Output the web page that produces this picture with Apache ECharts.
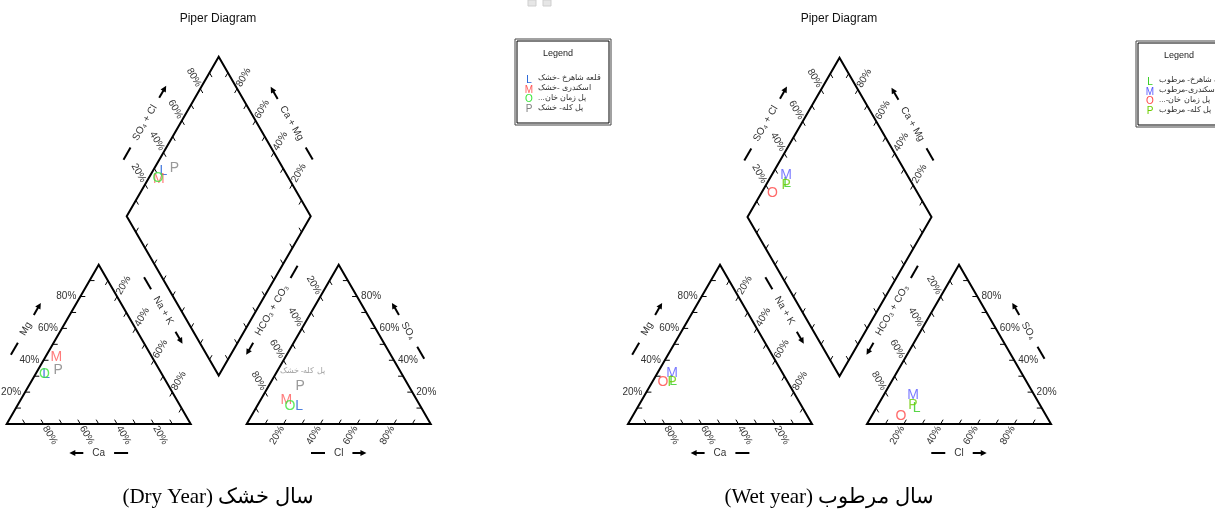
<!DOCTYPE html>
<html>
<head>
<meta charset="utf-8">
<script src="https://cdn.jsdelivr.net/npm/echarts@6/dist/echarts.min.js"></script>
<style>
  html, body { margin: 0; padding: 0; background: #fff; }
  #chart { width: 1215px; height: 523px; }
</style>
</head>
<body>
<div id="chart" dir="rtl"></div>
<script>
// ---- Sample data (percent of total meq/L) ----
const sampleLetters = ['L', 'M', 'O', 'P'];

const dryNames  = ['قلعه شاهرخ -خشک', 'اسکندری -خشک', 'پل زمان خان...', 'پل کله- خشک'];
const dryColors = ['#1f5fd6', '#ff5a5a', '#3ae63a', '#808080'];
const dryCa   = [63, 52, 64, 55];
const dryMg   = [31, 42, 31, 34];
const dryNaK  = [ 6,  6,  5, 11];
const dryHCO3 = [66, 71, 71, 59];
const drySO4  = [11, 15, 11, 24];
const dryCl   = [23, 14, 18, 17];

const wetNames  = ['قلعه شاهرخ- مرطوب', 'اسکندری-مرطوب', 'پل زمان خان-...', 'پل کله- مرطوب'];
const wetColors = ['#2ecc1a', '#5a5aff', '#ff4545', '#6ccc00'];
const wetCa   = [62, 60, 68, 63];
const wetMg   = [27, 32, 26, 26];
const wetNaK  = [11,  8,  6, 11];
const wetHCO3 = [68, 66, 79, 69];
const wetSO4  = [10, 18,  5, 12];
const wetCl   = [22, 16, 16, 19];

const tickPercents = [20, 40, 60, 80];
const chartTitle = 'Piper Diagram';
const captions = ['سال خشک (Dry Year)', 'سال مرطوب (Wet year)'];
const axisNames = {
  mg: 'Mg', ca: 'Ca', nak: 'Na + K', cl: 'Cl', so4: 'SO\u2084',
  hco3: 'HCO\u2083 + CO\u2083', so4cl: 'SO\u2084 + Cl', camg: 'Ca + Mg'
};

// ---- Piper geometry ----
const W = 1215, HGT = 523;
const SIDE = 184, RT = Math.sqrt(3) / 2;
const FONT = 'Arial, "Liberation Sans", sans-serif';
const SERIF = '"Liberation Serif", "Times New Roman", serif';

function makeLayout(x0, base, gap) {
  return {
    x0, base, gap,
    x1: x0 + SIDE + gap,
    bx: x0 + SIDE + gap / 2,
    by: base - gap * RT
  };
}
const LAY = [makeLayout(6.7, 424, 56), makeLayout(628, 424, 55)];

function catXY(g, ca, mg, nk) {
  const s = ca + mg + nk; mg /= s; nk /= s;
  return [g.x0 + SIDE * (nk + mg / 2), g.base - SIDE * RT * mg];
}
function anXY(g, hc, so, cl) {
  const s = hc + so + cl; so /= s; cl /= s;
  return [g.x1 + SIDE * (cl + so / 2), g.base - SIDE * RT * so];
}
function diaXY(g, cm, sc) {
  return [g.bx + SIDE / 2 * (sc - cm), g.by - SIDE * RT * (cm + sc)];
}

const D = {
  UR: [0.5, -RT], UL: [-0.5, -RT], DR: [0.5, RT], DL: [-0.5, RT],
  R: [1, 0], L: [-1, 0], N_LEFT: [-RT, -0.5], N_RIGHT: [RT, -0.5], DOWN: [0, 1]
};

const mctx = document.createElement('canvas').getContext('2d');
function textWidth(str, size) {
  mctx.font = size + 'px ' + FONT;
  return mctx.measureText(str).width;
}

function axesFor(g) {
  return [
    { pt: v => catXY(g, v, 0, 100 - v), inward: D.UL, label: { out: D.DR, rot: -60 } },
    { pt: v => catXY(g, 100 - v, v, 0), inward: D.R, label: { side: 'left' } },
    { pt: v => catXY(g, 0, 100 - v, v), inward: D.DL, label: { out: D.UR, rot: 60 } },
    { pt: v => anXY(g, 100 - v, 0, v), inward: D.UR, label: { out: D.DL, rot: 60 } },
    { pt: v => anXY(g, 0, v, 100 - v), inward: D.L, label: { side: 'right' } },
    { pt: v => anXY(g, v, 100 - v, 0), inward: D.DR, label: { out: D.UL, rot: -60 } },
    { pt: v => diaXY(g, 1, v / 100), inward: D.DR, label: { out: D.UL, rot: -60 } },
    { pt: v => diaXY(g, v / 100, 1), inward: D.DL, label: { out: D.UR, rot: 60 } },
    { pt: v => diaXY(g, v / 100, 0), inward: D.UR },
    { pt: v => diaXY(g, 0, v / 100), inward: D.UL }
  ];
}

function titlesFor(g) {
  return [
    { mid: catXY(g, 50, 50, 0), T: D.UR, N: D.N_LEFT, n: 31, t: 0, text: axisNames.mg, rot: 60 },
    { mid: catXY(g, 50, 0, 50), T: D.L, N: D.DOWN, n: 29, t: 0, text: axisNames.ca, rot: 0 },
    { mid: catXY(g, 0, 50, 50), T: D.DR, N: D.N_RIGHT, n: 33, t: -20, text: axisNames.nak, rot: -60 },
    { mid: anXY(g, 50, 0, 50), T: D.R, N: D.DOWN, n: 29, t: 0, text: axisNames.cl, rot: 0 },
    { mid: anXY(g, 0, 50, 50), T: D.UL, N: D.N_RIGHT, n: 27, t: 0, text: axisNames.so4, rot: -60 },
    { mid: anXY(g, 50, 50, 0), T: D.DL, N: D.N_LEFT, n: 35, t: -19, text: axisNames.hco3, rot: 60 },
    { mid: diaXY(g, 1, 0.5), T: D.UR, N: D.N_LEFT, n: 31, t: -2, text: axisNames.so4cl, rot: 60 },
    { mid: diaXY(g, 0.5, 1), T: D.UL, N: D.N_RIGHT, n: 30, t: -2, text: axisNames.camg, rot: -60 }
  ];
}

const add = (p, d, k) => [p[0] + d[0] * k, p[1] + d[1] * k];
const LABEL_FS = 10;
const INK = '#333';

function renderFrame(params, api) {
  const g = LAY[api.value(0)];
  const C = p => api.coord(p);
  const kids = [];
  const line = (a, b, w) => {
    const pa = C(a), pb = C(b);
    kids.push({ type: 'line', shape: { x1: pa[0], y1: pa[1], x2: pb[0], y2: pb[1] },
      style: { stroke: '#000', lineWidth: w } });
  };
  const text = (p, str, rot, align, size, color) => {
    const pp = C(p);
    kids.push({ type: 'text', x: pp[0], y: pp[1], rotation: rot * Math.PI / 180,
      style: { text: str, fontSize: size, fontFamily: FONT, fill: color,
        align: align, textAlign: align, verticalAlign: 'middle', textVerticalAlign: 'middle' } });
  };

  // outlines
  const polys = [
    [catXY(g, 100, 0, 0), catXY(g, 0, 0, 100), catXY(g, 0, 100, 0)],
    [anXY(g, 100, 0, 0), anXY(g, 0, 0, 100), anXY(g, 0, 100, 0)],
    [diaXY(g, 0, 0), diaXY(g, 1, 0), diaXY(g, 1, 1), diaXY(g, 0, 1)]
  ];
  polys.forEach(pts => kids.push({ type: 'polygon', shape: { points: pts.map(C) },
    style: { fill: 'none', stroke: '#000', lineWidth: 2, lineJoin: 'miter' } }));

  // ticks and tick labels
  axesFor(g).forEach(ax => {
    for (let v = 10; v < 100; v += 10) {
      const p = ax.pt(v);
      line(p, add(p, ax.inward, 5), 1);
    }
    if (!ax.label) return;
    tickPercents.forEach(v => {
      const p = ax.pt(v);
      const s = v + '%';
      if (ax.label.side === 'left') text(add(p, D.L, 4), s, 0, 'right', LABEL_FS, INK);
      else if (ax.label.side === 'right') text(add(p, D.R, 4), s, 0, 'left', LABEL_FS, INK);
      else text(add(p, ax.label.out, 13), s, ax.label.rot, 'center', LABEL_FS, INK);
    });
  });

  // axis titles with dash and arrow
  titlesFor(g).forEach(tt => {
    const c = add(add(tt.mid, tt.N, tt.n), tt.T, tt.t);
    text(c, tt.text, tt.rot, 'center', LABEL_FS, INK);
    const a = textWidth(tt.text, LABEL_FS) / 2 + 9, len = 14;
    line(add(c, tt.T, -(a + len)), add(c, tt.T, -a), 2);
    const e = add(c, tt.T, a + len);
    line(add(c, tt.T, a), add(e, tt.T, -4), 2);
    const perp = [-tt.T[1], tt.T[0]];
    const b = add(e, tt.T, -6);
    kids.push({ type: 'polygon',
      shape: { points: [C(e), C(add(b, perp, 3)), C(add(b, perp, -3))] },
      style: { fill: '#000', stroke: 'none' } });
  });

  return { type: 'group', children: kids };
}

// ---- data marks: each sample plotted in cation, anion and diamond fields ----
function sampleSeries(gi, ca, mg, nk, hc, so, cl, colors) {
  const g = LAY[gi];
  return sampleLetters.map((letter, i) => {
    const cm = (ca[i] + mg[i]) / (ca[i] + mg[i] + nk[i]);
    const sc = (so[i] + cl[i]) / (hc[i] + so[i] + cl[i]);
    return {
      type: 'scatter', name: letter, silent: true, z: 5,
      symbolSize: 1, itemStyle: { color: 'transparent' },
      data: [catXY(g, ca[i], mg[i], nk[i]), anXY(g, hc[i], so[i], cl[i]), diaXY(g, cm, sc)],
      label: { show: true, position: 'inside', formatter: letter, color: colors[i],
        fontSize: 14, fontFamily: FONT }
    };
  });
}

const series = [
  { type: 'custom', coordinateSystem: 'cartesian2d', silent: true, clip: false, z: 2,
    renderItem: renderFrame, data: [[0, 0], [1, 0]] },
  ...sampleSeries(0, dryCa, dryMg, dryNaK, dryHCO3, drySO4, dryCl, dryColors),
  ...sampleSeries(1, wetCa, wetMg, wetNaK, wetHCO3, wetSO4, wetCl, wetColors),
  // station name shown beside the P sample in the dry-year anion field
  { type: 'scatter', silent: true, z: 4, symbolSize: 1, itemStyle: { color: 'transparent' },
    data: [anXY(LAY[0], dryHCO3[3], drySO4[3], dryCl[3])],
    label: { show: true, position: 'inside', offset: [2, -15], formatter: dryNames[3],
      color: '#8a8a8a', fontSize: 8, fontFamily: FONT } }
];

// ---- legends, titles, captions ----
function legendBox(x, y, names, colors) {
  const els = [
    { type: 'rect', shape: { x: x, y: y, width: 96, height: 86 },
      style: { fill: '#fff', stroke: '#444', lineWidth: 1 } },
    { type: 'rect', shape: { x: x + 2, y: y + 2, width: 92, height: 82 },
      style: { fill: 'none', stroke: '#000', lineWidth: 1 } },
    { type: 'text', x: x + 43, y: y + 15,
      style: { text: 'Legend', fontSize: 9, fontFamily: FONT, fill: '#222', align: 'center', verticalAlign: 'middle' } }
  ];
  names.forEach((nm, i) => {
    const yy = y + 41 + i * 9.8;
    els.push({ type: 'text', x: x + 14, y: yy,
      style: { text: sampleLetters[i], fontSize: 10, fontFamily: FONT, fill: colors[i], align: 'center', verticalAlign: 'middle' } });
    els.push({ type: 'text', x: x + 23, y: yy - 2,
      style: { text: nm, fontSize: 8, fontFamily: FONT, fill: '#333', align: 'left', verticalAlign: 'middle' } });
  });
  return els;
}

const graphic = [
  { type: 'text', x: 218, y: 19, style: { text: chartTitle, fontSize: 12, fontFamily: FONT, fill: '#111', align: 'center', verticalAlign: 'middle' } },
  { type: 'text', x: 839, y: 19, style: { text: chartTitle, fontSize: 12, fontFamily: FONT, fill: '#111', align: 'center', verticalAlign: 'middle' } },
  { type: 'rect', shape: { x: 528, y: 0, width: 8, height: 6 }, style: { fill: '#e6e6e6', stroke: '#cfcfcf' } },
  { type: 'rect', shape: { x: 543, y: 0, width: 8, height: 6 }, style: { fill: '#e6e6e6', stroke: '#cfcfcf' } },
  ...legendBox(515, 39, dryNames, dryColors),
  ...legendBox(1136, 41, wetNames, wetColors),
  { type: 'text', x: 218, y: 497, style: { text: captions[0], fontSize: 21, fontFamily: SERIF, fill: '#000', align: 'center', verticalAlign: 'middle' } },
  { type: 'text', x: 829, y: 497, style: { text: captions[1], fontSize: 21, fontFamily: SERIF, fill: '#000', align: 'center', verticalAlign: 'middle' } }
];

const chart = echarts.init(document.getElementById('chart'));
chart.setOption({
  animation: false,
  backgroundColor: '#fff',
  grid: { left: 0, right: 0, top: 0, bottom: 0 },
  xAxis: { type: 'value', min: 0, max: W, show: false },
  yAxis: { type: 'value', min: 0, max: HGT, inverse: true, show: false },
  series: series,
  graphic: graphic
});
</script>
</body>
</html>
